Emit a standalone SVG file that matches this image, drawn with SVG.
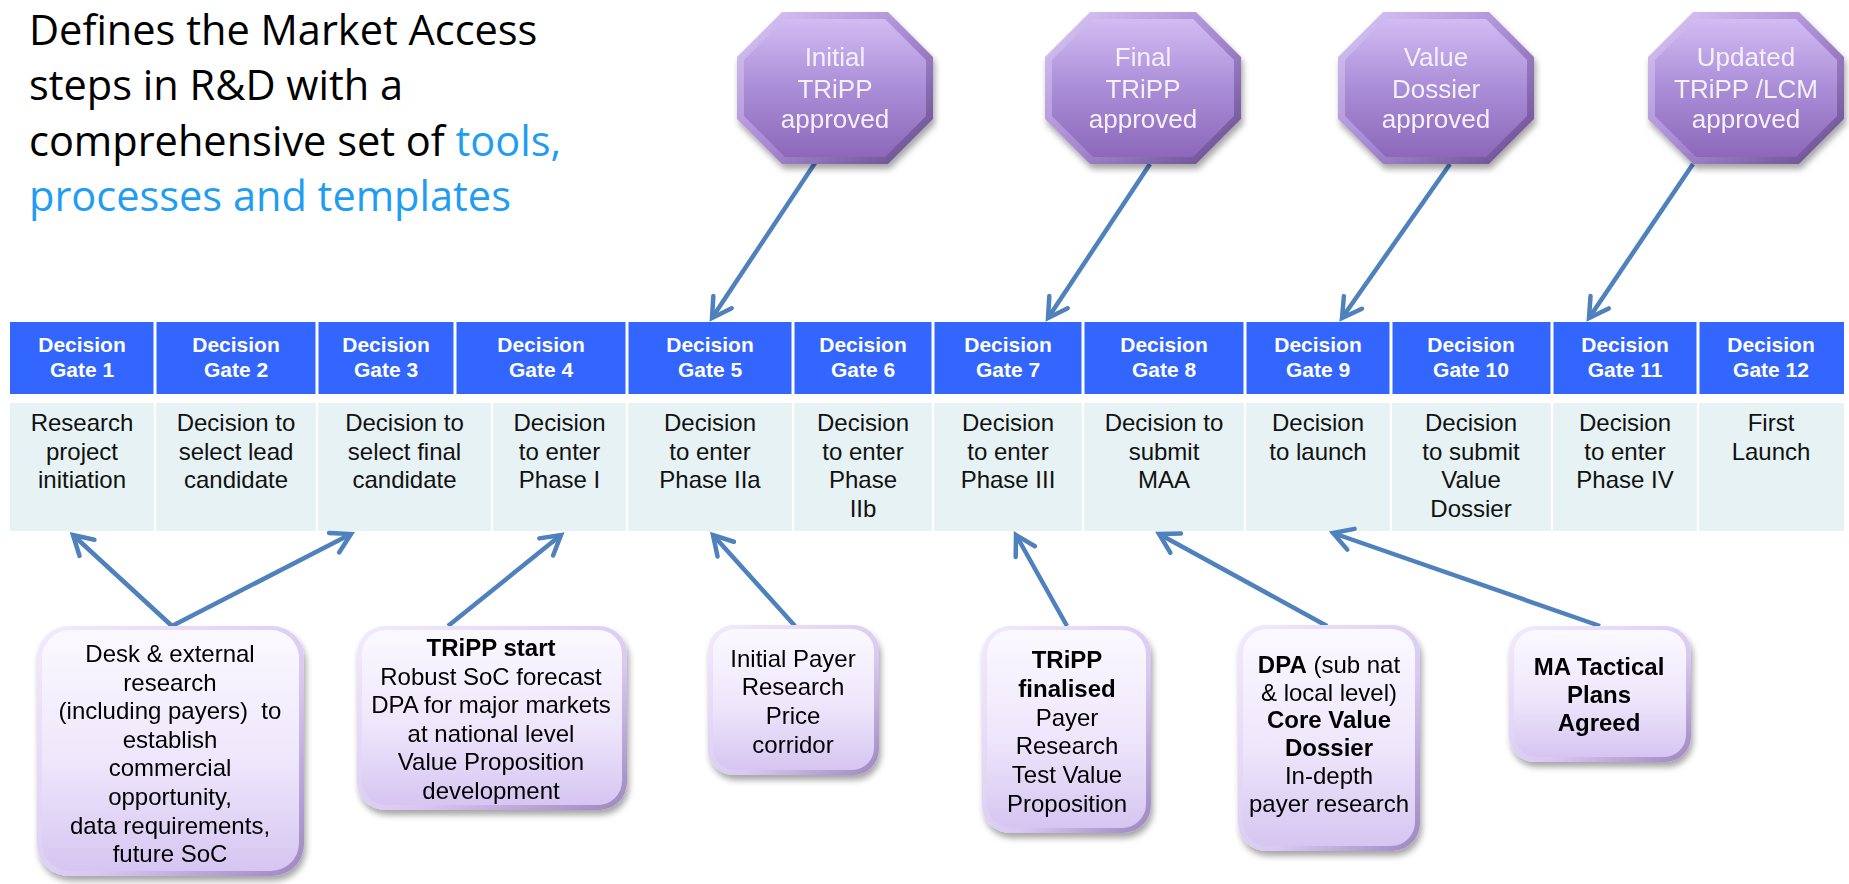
<svg xmlns="http://www.w3.org/2000/svg" width="1849" height="884" viewBox="0 0 1849 884">
<defs>
<style>
.title{font-family:"Open Sans","Liberation Sans",sans-serif;font-size:41.5px;fill:#000}
.blue{fill:#1F9DF2}
.hd{fill:#3366FF}
.hdt{font-family:"Liberation Sans",Arial,sans-serif;font-size:21px;font-weight:bold;fill:#fff;text-anchor:middle}
.bd{fill:#E6F2F3}
.bdt{font-family:"Liberation Sans",Arial,sans-serif;font-size:24px;fill:#111;text-anchor:middle}
.oct{font-family:"Liberation Sans",Arial,sans-serif;font-size:26px;fill:#F4F0FA;text-anchor:middle}
.bx{font-family:"Liberation Sans",Arial,sans-serif;font-size:24px;fill:#000;text-anchor:middle}
.b{font-weight:bold}
.conn{stroke:#4F81BD;stroke-width:4.5;fill:none;marker-end:url(#ah)}
</style>
<marker id="ah" markerUnits="userSpaceOnUse" markerWidth="34" markerHeight="34" viewBox="-26 -17 34 34" refX="0" refY="0" orient="auto" overflow="visible">
<path d="M-19,-11 L0,0 L-19,11" fill="none" stroke="#4F81BD" stroke-width="4.5" stroke-linecap="round"/>
</marker>
<linearGradient id="octRim" x1="0" y1="0" x2="1" y2="1">
<stop offset="0" stop-color="#DCCBF6"/><stop offset="0.5" stop-color="#A98CD4"/><stop offset="1" stop-color="#654889"/>
</linearGradient>
<linearGradient id="octIn" x1="0" y1="0" x2="0" y2="1">
<stop offset="0" stop-color="#D2BCF3"/><stop offset="0.5" stop-color="#AA8DD7"/><stop offset="1" stop-color="#8C68BA"/>
</linearGradient>
<linearGradient id="boxRim" x1="0" y1="0" x2="1" y2="1">
<stop offset="0" stop-color="#F2ECFC"/><stop offset="0.6" stop-color="#D9C9F2"/><stop offset="1" stop-color="#9C86BF"/>
</linearGradient>
<linearGradient id="boxIn" x1="0" y1="0" x2="0" y2="1">
<stop offset="0" stop-color="#FBF9FF"/><stop offset="0.55" stop-color="#EEE6FB"/><stop offset="1" stop-color="#D6C5F1"/>
</linearGradient>
<filter id="sh" x="-20%" y="-20%" width="140%" height="150%">
<feDropShadow dx="2" dy="5" stdDeviation="3" flood-color="#000" flood-opacity="0.35"/>
</filter>
</defs>
<rect width="1849" height="884" fill="#fff"/>

<g id="title">
<text class="title" x="29" y="45">Defines the Market Access</text>
<text class="title" x="29" y="100">steps in R&amp;D with a</text>
<text class="title" x="29" y="155.5">comprehensive set of <tspan class="blue">tools,</tspan></text>
<text class="title blue" x="29" y="211">processes and templates</text>
</g>

<g id="gate-headers">
<rect class="hd" x="10" y="322" width="143.5" height="72"/>
<rect class="hd" x="156.5" y="322" width="159" height="72"/>
<rect class="hd" x="318.5" y="322" width="135" height="72"/>
<rect class="hd" x="456.5" y="322" width="169" height="72"/>
<rect class="hd" x="628.5" y="322" width="163" height="72"/>
<rect class="hd" x="794.5" y="322" width="137" height="72"/>
<rect class="hd" x="934.5" y="322" width="147" height="72"/>
<rect class="hd" x="1084.5" y="322" width="159" height="72"/>
<rect class="hd" x="1246.5" y="322" width="143" height="72"/>
<rect class="hd" x="1392.5" y="322" width="158" height="72"/>
<rect class="hd" x="1553.5" y="322" width="143" height="72"/>
<rect class="hd" x="1699.5" y="322" width="144.5" height="72"/>
<text class="hdt" x="82" y="351.5">Decision<tspan x="82" y="376.5">Gate 1</tspan></text>
<text class="hdt" x="236" y="351.5">Decision<tspan x="236" y="376.5">Gate 2</tspan></text>
<text class="hdt" x="386" y="351.5">Decision<tspan x="386" y="376.5">Gate 3</tspan></text>
<text class="hdt" x="541" y="351.5">Decision<tspan x="541" y="376.5">Gate 4</tspan></text>
<text class="hdt" x="710" y="351.5">Decision<tspan x="710" y="376.5">Gate 5</tspan></text>
<text class="hdt" x="863" y="351.5">Decision<tspan x="863" y="376.5">Gate 6</tspan></text>
<text class="hdt" x="1008" y="351.5">Decision<tspan x="1008" y="376.5">Gate 7</tspan></text>
<text class="hdt" x="1164" y="351.5">Decision<tspan x="1164" y="376.5">Gate 8</tspan></text>
<text class="hdt" x="1318" y="351.5">Decision<tspan x="1318" y="376.5">Gate 9</tspan></text>
<text class="hdt" x="1471" y="351.5">Decision<tspan x="1471" y="376.5">Gate 10</tspan></text>
<text class="hdt" x="1625" y="351.5">Decision<tspan x="1625" y="376.5">Gate 11</tspan></text>
<text class="hdt" x="1771" y="351.5">Decision<tspan x="1771" y="376.5">Gate 12</tspan></text>
</g>

<g id="gate-descriptions">
<rect class="bd" x="10" y="403" width="143.8" height="128"/>
<rect class="bd" x="156.2" y="403" width="159.6" height="128"/>
<rect class="bd" x="318.2" y="403" width="172.6" height="128"/>
<rect class="bd" x="493.2" y="403" width="132.6" height="128"/>
<rect class="bd" x="628.2" y="403" width="163.6" height="128"/>
<rect class="bd" x="794.2" y="403" width="137.6" height="128"/>
<rect class="bd" x="934.2" y="403" width="147.6" height="128"/>
<rect class="bd" x="1084.2" y="403" width="159.6" height="128"/>
<rect class="bd" x="1246.2" y="403" width="143.6" height="128"/>
<rect class="bd" x="1392.2" y="403" width="158.6" height="128"/>
<rect class="bd" x="1553.2" y="403" width="143.6" height="128"/>
<rect class="bd" x="1699.2" y="403" width="144.8" height="128"/>
<text class="bdt" x="82" y="431">Research<tspan x="82" y="459.7">project</tspan><tspan x="82" y="488.4">initiation</tspan></text>
<text class="bdt" x="236" y="431">Decision to<tspan x="236" y="459.7">select lead</tspan><tspan x="236" y="488.4">candidate</tspan></text>
<text class="bdt" x="404.5" y="431">Decision to<tspan x="404.5" y="459.7">select final</tspan><tspan x="404.5" y="488.4">candidate</tspan></text>
<text class="bdt" x="559.5" y="431">Decision<tspan x="559.5" y="459.7">to enter</tspan><tspan x="559.5" y="488.4">Phase I</tspan></text>
<text class="bdt" x="710" y="431">Decision<tspan x="710" y="459.7">to enter</tspan><tspan x="710" y="488.4">Phase IIa</tspan></text>
<text class="bdt" x="863" y="431">Decision<tspan x="863" y="459.7">to enter</tspan><tspan x="863" y="488.4">Phase</tspan><tspan x="863" y="517">IIb</tspan></text>
<text class="bdt" x="1008" y="431">Decision<tspan x="1008" y="459.7">to enter</tspan><tspan x="1008" y="488.4">Phase III</tspan></text>
<text class="bdt" x="1164" y="431">Decision to<tspan x="1164" y="459.7">submit</tspan><tspan x="1164" y="488.4">MAA</tspan></text>
<text class="bdt" x="1318" y="431">Decision<tspan x="1318" y="459.7">to launch</tspan></text>
<text class="bdt" x="1471" y="431">Decision<tspan x="1471" y="459.7">to submit</tspan><tspan x="1471" y="488.4">Value</tspan><tspan x="1471" y="517">Dossier</tspan></text>
<text class="bdt" x="1625" y="431">Decision<tspan x="1625" y="459.7">to enter</tspan><tspan x="1625" y="488.4">Phase IV</tspan></text>
<text class="bdt" x="1771" y="431">First<tspan x="1771" y="459.7">Launch</tspan></text>
</g>

<g id="connectors">
<line class="conn" x1="815" y1="163" x2="712" y2="318"/>
<line class="conn" x1="1150" y1="164" x2="1048" y2="318"/>
<line class="conn" x1="1450" y1="164" x2="1342" y2="318"/>
<line class="conn" x1="1693" y1="164" x2="1589" y2="318"/>
<line class="conn" x1="172" y1="626" x2="73" y2="535"/>
<line class="conn" x1="172" y1="626" x2="351" y2="534"/>
<line class="conn" x1="448" y1="626" x2="561" y2="535"/>
<line class="conn" x1="795" y1="626" x2="713" y2="535"/>
<line class="conn" x1="1067" y1="626" x2="1016" y2="535"/>
<line class="conn" x1="1327" y1="626" x2="1159" y2="534"/>
<line class="conn" x1="1600" y1="626" x2="1333" y2="533"/>
</g>

<g id="milestone-initial-tripp" filter="url(#sh)">
<polygon points="782,12 888,12 933,57 933,119 888,164 782,164 737,119 737,57" fill="url(#octRim)"/>
<polygon points="785,19 885,19 926,60 926,116 885,157 785,157 744,116 744,60" fill="url(#octIn)"/>
<text class="oct" x="835" y="66">Initial<tspan x="835" y="97.5">TRiPP</tspan><tspan x="835" y="128">approved</tspan></text>
</g>
<g id="milestone-final-tripp" filter="url(#sh)">
<polygon points="1090,12 1196,12 1241,57 1241,119 1196,164 1090,164 1045,119 1045,57" fill="url(#octRim)"/>
<polygon points="1093,19 1193,19 1234,60 1234,116 1193,157 1093,157 1052,116 1052,60" fill="url(#octIn)"/>
<text class="oct" x="1143" y="66">Final<tspan x="1143" y="97.5">TRiPP</tspan><tspan x="1143" y="128">approved</tspan></text>
</g>
<g id="milestone-value-dossier" filter="url(#sh)">
<polygon points="1383,12 1489,12 1534,57 1534,119 1489,164 1383,164 1338,119 1338,57" fill="url(#octRim)"/>
<polygon points="1386,19 1486,19 1527,60 1527,116 1486,157 1386,157 1345,116 1345,60" fill="url(#octIn)"/>
<text class="oct" x="1436" y="66">Value<tspan x="1436" y="97.5">Dossier</tspan><tspan x="1436" y="128">approved</tspan></text>
</g>
<g id="milestone-updated-tripp" filter="url(#sh)">
<polygon points="1693,12 1799,12 1844,57 1844,119 1799,164 1693,164 1648,119 1648,57" fill="url(#octRim)"/>
<polygon points="1696,19 1796,19 1837,60 1837,116 1796,157 1696,157 1655,116 1655,60" fill="url(#octIn)"/>
<text class="oct" x="1746" y="66">Updated<tspan x="1746" y="97.5">TRiPP /LCM</tspan><tspan x="1746" y="128">approved</tspan></text>
</g>

<g id="box-desk-research" filter="url(#sh)">
<rect x="37" y="626" width="267" height="250" rx="32" fill="url(#boxRim)"/>
<rect x="42" y="630" width="257" height="241" rx="28" fill="url(#boxIn)"/>
<text class="bx" x="170" y="662" xml:space="preserve">Desk &amp; external<tspan x="170" y="690.6">research</tspan><tspan x="170" y="719.2">(including payers)  to</tspan><tspan x="170" y="747.8">establish</tspan><tspan x="170" y="776.4">commercial</tspan><tspan x="170" y="805">opportunity,</tspan><tspan x="170" y="833.6">data requirements,</tspan><tspan x="170" y="862.2">future SoC</tspan></text>
</g>
<g id="box-tripp-start" filter="url(#sh)">
<rect x="357" y="626" width="270" height="184" rx="28" fill="url(#boxRim)"/>
<rect x="362" y="630" width="260" height="175" rx="24" fill="url(#boxIn)"/>
<text class="bx" x="491" y="656"><tspan class="b">TRiPP start</tspan><tspan x="491" y="684.6">Robust SoC forecast</tspan><tspan x="491" y="713.2">DPA for major markets</tspan><tspan x="491" y="741.8">at national level</tspan><tspan x="491" y="770.4">Value Proposition</tspan><tspan x="491" y="799">development</tspan></text>
</g>
<g id="box-initial-payer" filter="url(#sh)">
<rect x="708" y="625" width="171" height="150" rx="26" fill="url(#boxRim)"/>
<rect x="713" y="629" width="161" height="141" rx="22" fill="url(#boxIn)"/>
<text class="bx" x="793" y="666.7">Initial Payer<tspan x="793" y="695.4">Research</tspan><tspan x="793" y="724">Price</tspan><tspan x="793" y="752.7">corridor</tspan></text>
</g>
<g id="box-tripp-finalised" filter="url(#sh)">
<rect x="982" y="626" width="169" height="207" rx="28" fill="url(#boxRim)"/>
<rect x="987" y="630" width="159" height="198" rx="24" fill="url(#boxIn)"/>
<text class="bx" x="1067" y="668"><tspan class="b">TRiPP</tspan><tspan class="b" x="1067" y="696.8">finalised</tspan><tspan x="1067" y="725.6">Payer</tspan><tspan x="1067" y="754.4">Research</tspan><tspan x="1067" y="783.2">Test Value</tspan><tspan x="1067" y="812">Proposition</tspan></text>
</g>
<g id="box-dpa-core-value" filter="url(#sh)">
<rect x="1238" y="625" width="182" height="226" rx="28" fill="url(#boxRim)"/>
<rect x="1243" y="629" width="172" height="217" rx="24" fill="url(#boxIn)"/>
<text class="bx" x="1329" y="672.7"><tspan class="b">DPA</tspan> (sub nat<tspan x="1329" y="700.5">&amp; local level)</tspan><tspan class="b" x="1329" y="728.3">Core Value</tspan><tspan class="b" x="1329" y="756.1">Dossier</tspan><tspan x="1329" y="783.9">In-depth</tspan><tspan x="1329" y="811.7">payer research</tspan></text>
</g>
<g id="box-ma-tactical" filter="url(#sh)">
<rect x="1509" y="626" width="182" height="136" rx="26" fill="url(#boxRim)"/>
<rect x="1514" y="630" width="172" height="127" rx="22" fill="url(#boxIn)"/>
<text class="bx b" x="1599" y="675">MA Tactical<tspan x="1599" y="703">Plans</tspan><tspan x="1599" y="731">Agreed</tspan></text>
</g>
</svg>
